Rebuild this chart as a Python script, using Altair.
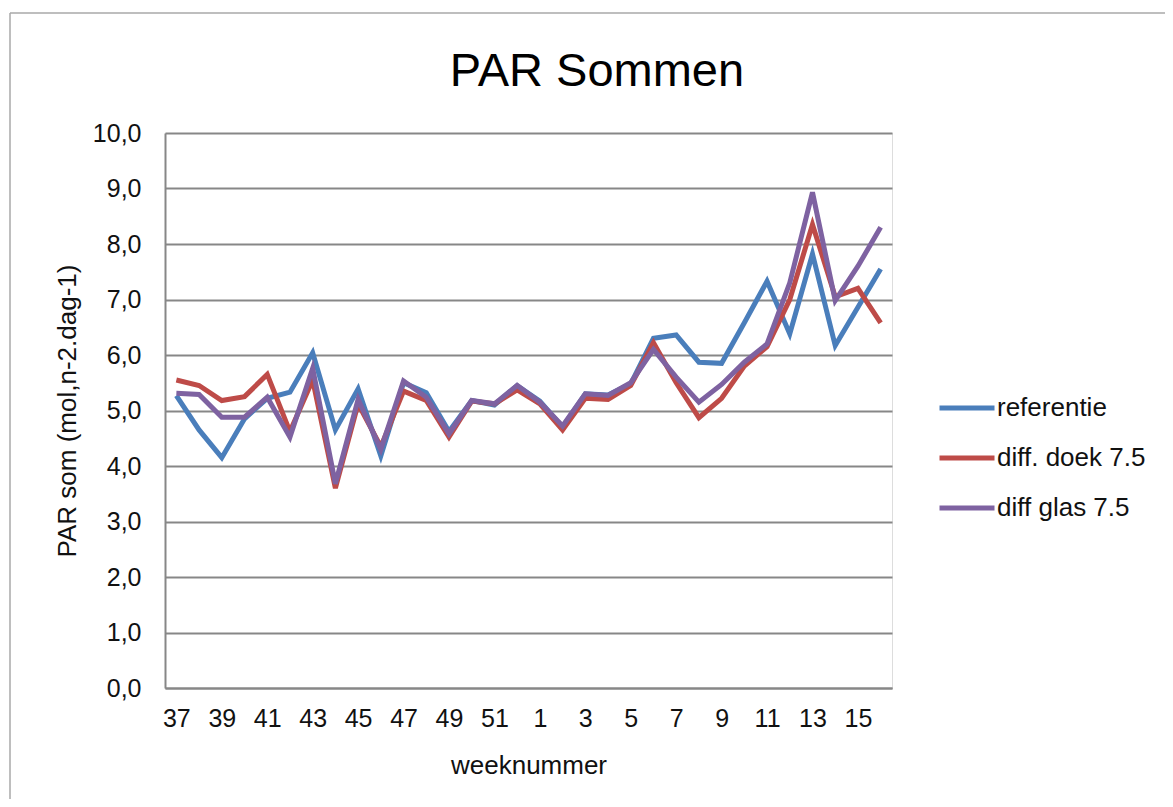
import altair as alt
import pandas as pd

# ---- data ----
weeks = [str(w) for w in list(range(37, 53)) + list(range(1, 17))]

referentie = [5.27, 4.65, 4.15, 4.85, 5.22, 5.33, 6.04, 4.65, 5.39, 4.18,
              5.50, 5.32, 4.62, 5.18, 5.10, 5.45, 5.17, 4.70, 5.30, 5.28,
              5.48, 6.30, 6.36, 5.87, 5.85, 6.58, 7.33, 6.38, 7.82, 6.17,
              6.86, 7.55]
doek = [5.55, 5.45, 5.18, 5.25, 5.65, 4.62, 5.55, 3.60, 5.12, 4.35,
        5.35, 5.18, 4.52, 5.17, 5.12, 5.37, 5.12, 4.65, 5.22, 5.20,
        5.45, 6.22, 5.50, 4.87, 5.22, 5.80, 6.15, 7.00, 8.35, 7.05,
        7.20, 6.58]
glas = [5.31, 5.29, 4.88, 4.88, 5.24, 4.52, 5.76, 3.68, 5.20, 4.30,
        5.53, 5.24, 4.58, 5.18, 5.12, 5.45, 5.15, 4.72, 5.30, 5.27,
        5.50, 6.10, 5.60, 5.15, 5.47, 5.87, 6.20, 7.30, 8.93, 6.98,
        7.60, 8.30]

series_names = ["referentie", "diff. doek 7.5", "diff glas 7.5"]
colors = ["#4A7EBB", "#BE4B48", "#7E62A1"]
x_label_values = weeks[::2]
y_values = list(range(0, 11))
chart_title = "PAR Sommen"

rows = []
for name, vals in zip(series_names, [referentie, doek, glas]):
    for w, v in zip(weeks, vals):
        rows.append({"week": w, "value": v, "series": name})
df = pd.DataFrame(rows)

FONT = "Liberation Sans"
GRID = "#878787"

lines = alt.Chart(df).mark_line(strokeWidth=5).encode(
    x=alt.X(
        "week:N",
        sort=weeks,
        scale=alt.Scale(type="point", padding=0.5),
        axis=alt.Axis(
            values=x_label_values,
            title="weeknummer",
            labelAngle=0,
            labelFontSize=25,
            labelFont=FONT,
            labelColor="#111111",
            labelPadding=18,
            ticks=False,
            grid=False,
            domainColor=GRID,
            domainWidth=2,
            titleFont=FONT,
            titleFontSize=26,
            titleFontWeight="normal",
            titleColor="#111111",
            titleX=363.5,
            titleY=77,
            titleAlign="center",
            titleBaseline="middle",
        ),
    ),
    y=alt.Y(
        "value:Q",
        scale=alt.Scale(domain=[0, 10], nice=False, zero=True),
        axis=alt.Axis(
            values=y_values,
            title="PAR som (mol,n-2.dag-1)",
            labelExpr="replace(format(datum.value, '.1f'), '.', ',')",
            labelFontSize=25,
            labelFont=FONT,
            labelColor="#111111",
            labelPadding=24,
            ticks=False,
            grid=True,
            gridColor=GRID,
            gridWidth=2,
            domainColor=GRID,
            domainWidth=2,
            titleFont=FONT,
            titleFontSize=26,
            titleFontWeight="normal",
            titleColor="#111111",
            titleAngle=270,
            titleX=-98,
            titleY=277.5,
            titleAlign="center",
            titleBaseline="middle",
        ),
    ),
    color=alt.Color(
        "series:N",
        sort=series_names,
        scale=alt.Scale(domain=series_names, range=colors),
        legend=alt.Legend(
            title=None,
            orient="none",
            legendX=772,
            legendY=245,
            symbolType="stroke",
            symbolSize=3025,
            symbolStrokeWidth=5,
            labelFont=FONT,
            labelFontSize=26,
            labelColor="#111111",
            labelOffset=0,
            rowPadding=7,
        ),
    ),
)

one = alt.Data(values=[{"k": 1}])
frame_top = alt.Chart(one).mark_rule(color="#a9a9a9", strokeWidth=1.5).encode(
    x=alt.value(-155), x2=alt.value(1010), y=alt.value(-120)
)
frame_left = alt.Chart(one).mark_rule(color="#a9a9a9", strokeWidth=1.5).encode(
    x=alt.value(-155), y=alt.value(-120), y2=alt.value(680)
)
title_text = alt.Chart(one).mark_text(
    font=FONT, fontSize=47, color="#000000", align="center", baseline="alphabetic"
).encode(x=alt.value(432), y=alt.value(-47), text=alt.value(chart_title))

chart = alt.layer(frame_top, frame_left, title_text, lines).properties(
    width=727,
    height=555,
    autosize=alt.AutoSizeParams(type="none"),
    padding={"left": 157, "top": 125, "right": 273, "bottom": 111},
).configure_view(stroke=None).configure(background="white")

chart.save("out.html", embed_options={"renderer": "svg", "actions": False})
